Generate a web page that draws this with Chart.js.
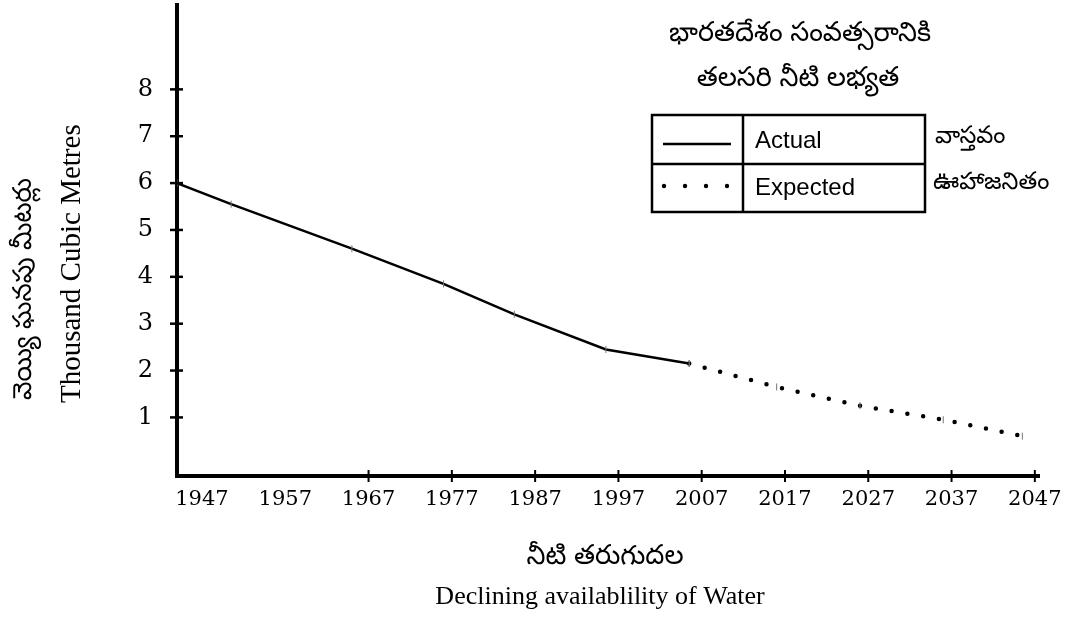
<!DOCTYPE html>
<html>
<head>
<meta charset="utf-8">
<script src="https://cdn.jsdelivr.net/npm/chart.js@4/dist/chart.umd.min.js"></script>
<style>
  body { margin: 0; background: #fff; }
  #wrap { width: 1067px; height: 632px; }
</style>
</head>
<body>
<div id="wrap"><canvas id="myChart" width="1067" height="632"></canvas></div>
<script>
// per capita water availability, thousand cubic metres
var actualYears = [1944, 1950.5, 1965, 1976, 1984.5, 1995.5, 2005.5];
var actualValues = [6.0, 5.55, 4.6, 3.85, 3.2, 2.45, 2.15];
var expectedYears = [2005.5, 2016, 2026, 2036, 2045.5];
var expectedValues = [2.15, 1.65, 1.25, 0.95, 0.6];

var xTickLabels = [1947, 1957, 1967, 1977, 1987, 1997, 2007, 2017, 2027, 2037, 2047];
var xTickMarks = [1967, 1977, 1987, 1997, 2007, 2017, 2027, 2037, 2047];
var yTickLabels = [1, 2, 3, 4, 5, 6, 7, 8];

var serif = '"DejaVu Serif", serif';
var times = '"Liberation Serif", "Times New Roman", serif';
var telugu = '"Noto Sans Telugu", "Noto Sans", sans-serif';

function toPoints(xs, ys) {
    return xs.map(function (x, i) { return { x: x, y: ys[i] }; });
}

// tick marks that cross the axis lines, plus the titles and the boxed legend
var decorations = {
    id: 'decorations',
    afterDraw: function (chart) {
        var c = chart.ctx;
        var xs = chart.scales.x, ys = chart.scales.y;
        var area = chart.chartArea;
        c.save();
        c.strokeStyle = '#000';
        c.fillStyle = '#000';

        c.lineWidth = 2;
        xTickMarks.forEach(function (v) {
            var px = xs.getPixelForValue(v);
            c.beginPath();
            c.moveTo(px, area.bottom - 6);
            c.lineTo(px, area.bottom + 6);
            c.stroke();
        });
        c.lineWidth = 2.5;
        yTickLabels.forEach(function (v) {
            var py = ys.getPixelForValue(v);
            c.beginPath();
            c.moveTo(area.left - 7, py);
            c.lineTo(area.left + 6, py);
            c.stroke();
        });

        // title
        c.textAlign = 'center';
        c.textBaseline = 'middle';
        c.font = '27px ' + telugu;
        c.fillText('భారతదేశం సంవత్సరానికి', 800, 37);
        c.fillText('తలసరి నీటి లభ్యత', 798, 82);

        // legend table
        c.lineWidth = 2.5;
        c.strokeRect(652, 115, 273, 97);
        c.beginPath();
        c.moveTo(652, 164); c.lineTo(925, 164);
        c.moveTo(743, 115); c.lineTo(743, 212);
        c.stroke();
        c.beginPath();
        c.moveTo(663, 144); c.lineTo(731, 144);
        c.stroke();
        [664, 685, 706, 727].forEach(function (dx) {
            c.beginPath();
            c.arc(dx, 186, 2.2, 0, Math.PI * 2);
            c.fill();
        });
        c.textAlign = 'left';
        c.font = '24px "Liberation Sans", Arial, sans-serif';
        c.fillText('Actual', 755, 141);
        c.fillText('Expected', 755, 188);
        c.font = '24px ' + telugu;
        c.fillText('వాస్తవం', 935, 140);
        c.fillText('ఊహాజనితం', 933, 186);

        // x axis titles
        c.textAlign = 'center';
        c.font = '27px ' + telugu;
        c.fillText('నీటి తరుగుదల', 605, 560);
        c.font = '26px ' + times;
        c.fillText('Declining availablility of Water', 600, 597);

        // y axis titles
        c.translate(0, 403);
        c.rotate(-Math.PI / 2);
        c.textAlign = 'left';
        c.font = '26px ' + telugu;
        c.fillText('వెయ్యి ఘనపు మీటర్లు', 3, 27);
        c.font = '29px ' + times;
        c.fillText('Thousand Cubic Metres', 0, 72);
        c.restore();
    }
};

var ctx = document.getElementById('myChart').getContext('2d');

var myChart = new Chart(ctx, {
    type: 'line',
    data: {
        datasets: [{
            label: 'Actual',
            data: toPoints(actualYears, actualValues),
            borderColor: '#000',
            borderWidth: 2.5,
            pointStyle: 'line',
            rotation: 90,
            pointRadius: 3.5,
            pointBorderWidth: 1,
            pointBorderColor: '#777',
            tension: 0
        }, {
            label: 'Expected',
            data: toPoints(expectedYears, expectedValues),
            borderColor: '#000',
            borderWidth: 4.5,
            borderDash: [0, 16],
            borderCapStyle: 'round',
            pointStyle: 'line',
            rotation: 90,
            pointRadius: 3.5,
            pointBorderWidth: 1,
            pointBorderColor: '#777',
            tension: 0
        }]
    },
    options: {
        responsive: false,
        animation: false,
        layout: { padding: { top: 2, right: 28, bottom: 96, left: 0 } },
        plugins: {
            legend: { display: false },
            tooltip: { enabled: false }
        },
        scales: {
            x: {
                type: 'linear',
                min: 1944,
                max: 2047.5,
                afterBuildTicks: function (s) {
                    s.ticks = xTickLabels.map(function (v) { return { value: v }; });
                },
                afterFit: function (s) {
                    s.height = 60;
                    s.paddingLeft = 0;
                    s.paddingRight = 0;
                },
                grid: { display: false, drawTicks: false },
                border: { color: '#000', width: 4 },
                ticks: {
                    color: '#000',
                    padding: 11,
                    maxRotation: 0,
                    autoSkip: false,
                    font: { family: serif, size: 21 },
                    callback: function (v) { return String(v); }
                }
            },
            y: {
                min: -0.25,
                max: 9.8,
                afterBuildTicks: function (s) {
                    s.ticks = yTickLabels.map(function (v) { return { value: v }; });
                },
                afterFit: function (s) {
                    s.width = 177;
                    s.paddingTop = 0;
                    s.paddingBottom = 0;
                },
                grid: { display: false, drawTicks: false },
                border: { color: '#000', width: 4 },
                ticks: {
                    color: '#000',
                    padding: 24,
                    font: { family: serif, size: 24 }
                }
            }
        }
    },
    plugins: [decorations]
});
</script>
</body>
</html>
